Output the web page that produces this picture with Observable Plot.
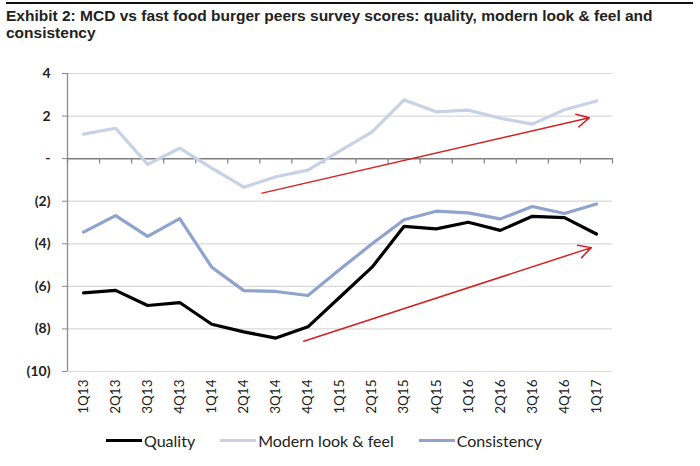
<!DOCTYPE html>
<html>
<head>
<meta charset="utf-8">
<script src="https://cdn.jsdelivr.net/npm/d3@7"></script>
<script src="https://cdn.jsdelivr.net/npm/@observablehq/plot@0.6"></script>
<style>
  body { margin: 0; background: #fff; width: 700px; height: 466px; overflow: hidden; }
  #wrap { position: relative; width: 700px; }
  #title { height: 53px; box-sizing: border-box; border-top: 2.5px solid #111; margin: 2px 7px 0 6px; padding-top: 3px;
           font-family: "Liberation Sans Narrow", "Liberation Sans", Arial, sans-serif; font-weight: bold; font-size: 15.5px; line-height: 17px; color: #222; }
  #legend { display: flex; margin-left: 106px; margin-top: 6px; font-family: Lato, "Open Sans", sans-serif; font-size: 16px; color: #222; white-space: nowrap; }
  .item { display: flex; align-items: center; flex: none; margin-right: 25px; }
  .sw { width: 36px; height: 3px; margin-right: 2px; }
</style>
</head>
<body>
<div id="wrap">
  <div id="title">Exhibit 2: MCD vs fast food burger peers survey scores: quality, modern look &amp; feel and consistency</div>
  <div id="chart"></div>
  <div id="legend"></div>
</div>
<script>
const quarters = ["1Q13","2Q13","3Q13","4Q13","1Q14","2Q14","3Q14","4Q14","1Q15","2Q15","3Q15","4Q15","1Q16","2Q16","3Q16","4Q16","1Q17"];
const quality     = [-6.31,-6.19,-6.9,-6.76,-7.78,-8.14,-8.43,-7.9,-6.5,-5.1,-3.18,-3.3,-2.99,-3.37,-2.71,-2.77,-3.54];
const modernLook  = [1.15,1.43,-0.27,0.49,-0.45,-1.34,-0.85,-0.54,0.36,1.26,2.76,2.2,2.28,1.9,1.62,2.3,2.71];
const consistency = [-3.45,-2.68,-3.65,-2.82,-5.1,-6.2,-6.24,-6.43,-5.2,-4.0,-2.87,-2.47,-2.55,-2.83,-2.25,-2.58,-2.13];
const seriesNames = ["Quality","Modern look & feel","Consistency"];
const seriesColors = ["#000000","#c8d2e6","#8fa3cc"];
const yTicks = [4,2,0,-2,-4,-6,-8,-10];
// trend arrows (quarter index, value)
const arrowStart = [[5.57,-1.62],[6.87,-8.58]];
const arrowEnd   = [[15.78,1.92],[15.84,-4.18]];

const seriesValues = [quality, modernLook, consistency];
const rows = [];
seriesNames.forEach((s, k) => seriesValues[k].forEach((v, i) => rows.push({series: s, i, v})));
const arrows = arrowStart.map((a, k) => ({x1: a[0], y1: a[1], x2: arrowEnd[k][0], y2: arrowEnd[k][1]}));
const boundaries = d3.range(quarters.length + 1).map(i => i - 0.5);
const fmt = v => v === 0 ? "-" : v < 0 ? `(${-v})` : `${v}`;
const font = "Lato, 'Open Sans', sans-serif";

const chart = Plot.plot({
  width: 700,
  height: 370,
  marginTop: 18,
  marginBottom: 54,
  marginLeft: 67,
  marginRight: 88,
  style: {fontFamily: font, fontSize: "13.5px", color: "#222", background: "#fff"},
  x: {type: "linear", domain: [-0.5, quarters.length - 0.5], axis: null},
  y: {type: "linear", domain: [-10, 4], axis: null},
  color: {domain: seriesNames, range: seriesColors},
  marks: [
    Plot.ruleY(yTicks.filter(t => t !== 0), {stroke: "#d9d9d9", strokeWidth: 1.2}),
    Plot.ruleX([-0.5], {stroke: "#8c8c8c", strokeWidth: 1.3}),
    Plot.axisY({ticks: yTicks, tickFormat: fmt, tickSize: 5, tickPadding: 12, stroke: "#8c8c8c", fill: "#222", fontWeight: "bold", fontSize: 14}),
    Plot.ruleY([0], {stroke: "#808080", strokeWidth: 1.5}),
    Plot.ruleX(boundaries, {y1: 0, y2: -0.25, stroke: "#808080", strokeWidth: 1.2}),
    Plot.axisX({ticks: d3.range(quarters.length), tickFormat: i => quarters[i], tickRotate: -90, tickSize: 0, tickPadding: 8, fontSize: 13.5, fill: "#222", anchor: "bottom"}),
    Plot.line(rows, {x: "i", y: "v", stroke: "series", z: "series", strokeWidth: 3.2, strokeLinejoin: "round", strokeLinecap: "round"}),
    Plot.arrow(arrows, {x1: "x1", y1: "y1", x2: "x2", y2: "y2", stroke: "#d42020", strokeWidth: 1.5, headLength: 14, headAngle: 55, bend: 0})
  ]
});
document.getElementById("chart").appendChild(chart);

const legend = document.getElementById("legend");
seriesNames.forEach((s, k) => {
  const it = document.createElement("div");
  it.className = "item";
  const sw = document.createElement("div");
  sw.className = "sw";
  sw.style.background = seriesColors[k];
  const t = document.createElement("span");
  t.textContent = s;
  it.appendChild(sw); it.appendChild(t);
  legend.appendChild(it);
});
</script>
</body>
</html>
